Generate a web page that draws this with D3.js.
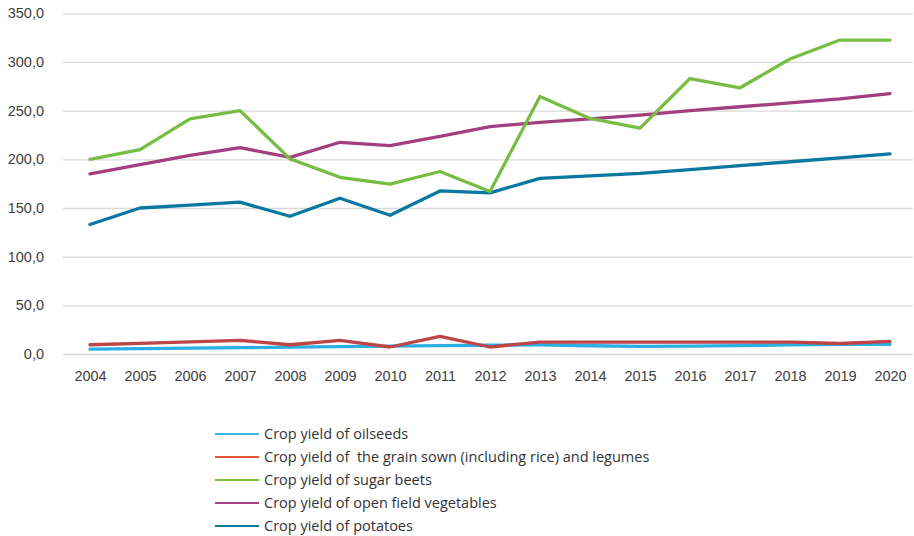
<!DOCTYPE html>
<html>
<head>
<meta charset="utf-8">
<script src="https://cdn.jsdelivr.net/npm/d3@7"></script>
<style>
  body { margin: 0; background: #fff; }
  svg { display: block; font-family: "Open Sans", sans-serif; }
  .tick text { fill: #404040; font-size: 14.5px; }
  .legend text { fill: #333; font-size: 14.5px; }
</style>
</head>
<body>
<div id="chart"></div>
<script>
// years on the x axis
var years = ["2004","2005","2006","2007","2008","2009","2010","2011","2012",
             "2013","2014","2015","2016","2017","2018","2019","2020"];

// series values
var oilseeds   = [5.0, 5.5, 6.0, 6.5, 7.0, 7.5, 8.0, 8.6, 9.0, 9.3, 8.5, 7.8, 8.1, 8.7, 9.3, 9.8, 9.9];
var grain      = [9.5, 11.0, 12.5, 14.0, 9.5, 14.0, 7.2, 18.0, 7.2, 12.3, 12.3, 12.3, 12.3, 12.3, 12.3, 10.8, 13.0];
var sugarBeets = [200, 210, 241.5, 250, 200.5, 181.5, 174.5, 187.5, 167, 264.5, 242, 232, 283, 273.5, 303, 322.5, 322.5];
var vegetables = [185, 194.5, 204, 212, 202, 217.5, 214, 223.5, 233.5, 238, 241.5, 245.5, 250, 254, 258, 262, 267.5];
var potatoes   = [133, 150, 153, 156, 141.5, 160, 142.5, 167.5, 165.5, 180.5, 183, 185.5, 189.5, 193.5, 197.5, 201.5, 205.5];

var seriesNames = [
  "Crop yield of oilseeds",
  "Crop yield of  the grain sown (including rice) and legumes",
  "Crop yield of sugar beets",
  "Crop yield of open field vegetables",
  "Crop yield of potatoes"
];
var lineColors   = ["#2aaee4", "#bc4645", "#78bd43", "#a2407f", "#0878a0"];
var legendColors = ["#3ab4e8", "#e0573b", "#7cc043", "#a4428a", "#0b7aa0"];
var yTicks = [0, 50, 100, 150, 200, 250, 300, 350];

var seriesData = [oilseeds, grain, sugarBeets, vegetables, potatoes];

var width = 914,
    height = 536;

var svg = d3.select("#chart").append("svg")
    .attr("width", width)
    .attr("height", height);

var x = d3.scalePoint()
    .domain(years)
    .range([90, 890]);

var y = d3.scaleLinear()
    .domain([0, 350])
    .range([354, 13.3]);

var fmt = function(d) { return d3.format(".1f")(d).replace(".", ","); };

// horizontal gridlines + y labels
var yAxis = svg.append("g")
    .attr("transform", "translate(63,0)")
    .call(d3.axisLeft(y).tickValues(yTicks).tickFormat(fmt).tickSize(-850).tickPadding(19));
yAxis.select(".domain").remove();
yAxis.selectAll(".tick line").attr("stroke", "#d9d9d9").attr("stroke-width", 1.3);

// x labels (no axis line)
var xAxis = svg.append("g")
    .attr("transform", "translate(0,354)")
    .call(d3.axisBottom(x).tickSize(0).tickPadding(17));
xAxis.select(".domain").remove();

var line = d3.line()
    .x(function(d, i) { return x(years[i]); })
    .y(function(d) { return y(d); });

// draw series in back-to-front order so oilseeds end up under grain like the picture
var drawOrder = [0, 1, 4, 3, 2];
drawOrder.forEach(function(k) {
  svg.append("path")
    .datum(seriesData[k])
    .attr("fill", "none")
    .attr("stroke", lineColors[k])
    .attr("stroke-width", 3.3)
    .attr("stroke-linejoin", "round")
    .attr("stroke-linecap", "round")
    .attr("d", line);
});

// legend
var legend = svg.append("g").attr("class", "legend");
var rows = legend.selectAll("g")
    .data(seriesNames)
    .enter().append("g")
      .attr("transform", function(d, i) { return "translate(215," + (434 + i * 23) + ")"; });

rows.append("line")
    .attr("x1", 0).attr("x2", 44)
    .attr("stroke", function(d, i) { return legendColors[i]; })
    .attr("stroke-width", 2.2);

rows.append("text")
    .attr("x", 49)
    .attr("dy", "0.35em")
    .attr("xml:space", "preserve")
    .style("white-space", "pre")
    .text(function(d) { return d; });
</script>
</body>
</html>
